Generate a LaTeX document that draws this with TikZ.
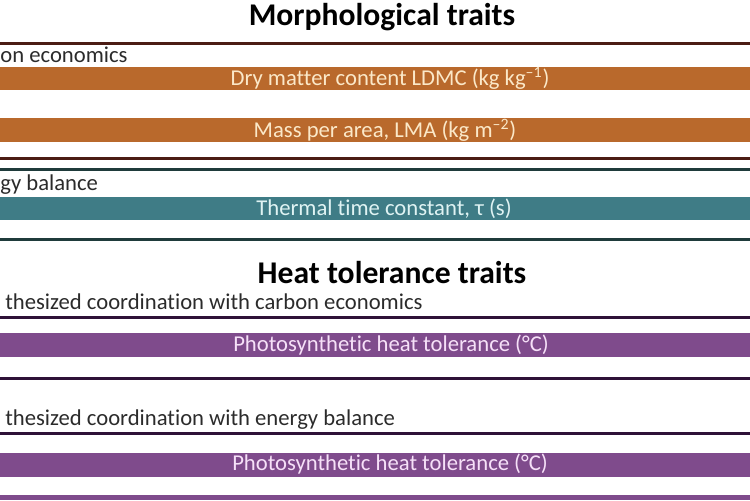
\documentclass[tikz,border=0pt]{standalone}
\usepackage{fontspec}
\setmainfont{Carlito}[Ligatures=NoCommon]
\usepackage{xcolor}
\usetikzlibrary{positioning}
\definecolor{cOrg}{HTML}{B9692C}
\definecolor{cOrgS}{HTML}{4B1C14}
\definecolor{cOrgT}{HTML}{FBE8C8}
\definecolor{cTeal}{HTML}{3F7C86}
\definecolor{cTealS}{HTML}{1F3B3B}
\definecolor{cTealT}{HTML}{DFF3F3}
\definecolor{cPur}{HTML}{7F4B8C}
\definecolor{cPurS}{HTML}{2E1238}
\definecolor{cPurT}{HTML}{F6E0F8}
\definecolor{cInk}{HTML}{2B2B2B}
\tikzset{
  bar/.style={inner sep=0pt,minimum width=16cm,minimum height=0.48cm,font=\fontsize{12.9}{15}\selectfont},
  rule/.style={line width=0.06cm},
  hdr/.style={inner sep=0pt,font=\fontsize{18}{21}\selectfont\bfseries},
  sub/.style={inner sep=0pt,anchor=west,text=cInk,font=\fontsize{12.9}{15}\selectfont},
}

\begin{document}
\begin{tikzpicture}[x=0.02cm,y=-0.02cm]
  \useasboundingbox (0,0) rectangle (750,500);
  % morphological traits
  \node[hdr] (morph) at (382,17) {Morphological traits};
  \draw[rule,cOrgS] (0,43.5) -- (750,43.5);
  \node[sub] (carb) at (0,55) {on economics};
  \node[bar,fill=cOrg,text=cOrgT] (ldmc) at (390,78.5) {Dry matter content LDMC (kg kg\textsuperscript{–1})};
  \node[bar,fill=cOrg,text=cOrgT] (lma) at (385,130) {Mass per area, LMA (kg m\textsuperscript{–2})};
  \draw[rule,cOrgS] (0,158) -- (750,158);
  \draw[rule,cTealS] (0,169.5) -- (750,169.5);
  \node[sub] (ener) at (0,185) {gy balance};
  \node[bar,fill=cTeal,text=cTealT] (tau) at (384,208.5) {Thermal time constant, τ (s)};
  \draw[rule,cTealS] (0,239.5) -- (750,239.5);
  % heat tolerance traits
  \node[hdr] (heat) at (392,273) {Heat tolerance traits};
  \node[sub] (hypc) at (5,302) {thesized coordination with carbon economics};
  \draw[rule,cPurS] (0,317.5) -- (750,317.5);
  \node[bar,fill=cPur,text=cPurT] (phta) at (391,345) {Photosynthetic heat tolerance (°C)};
  \draw[rule,cPurS] (0,378.5) -- (750,378.5);
  \node[sub] (hype) at (5,420) {thesized coordination with energy balance};
  \draw[rule,cPurS] (0,433) -- (750,433);
  \node[bar,fill=cPur,text=cPurT] (phtb) at (390,464.5) {Photosynthetic heat tolerance (°C)};
  \fill[cPur] (0,495) rectangle (750,500);
\end{tikzpicture}
\end{document}
